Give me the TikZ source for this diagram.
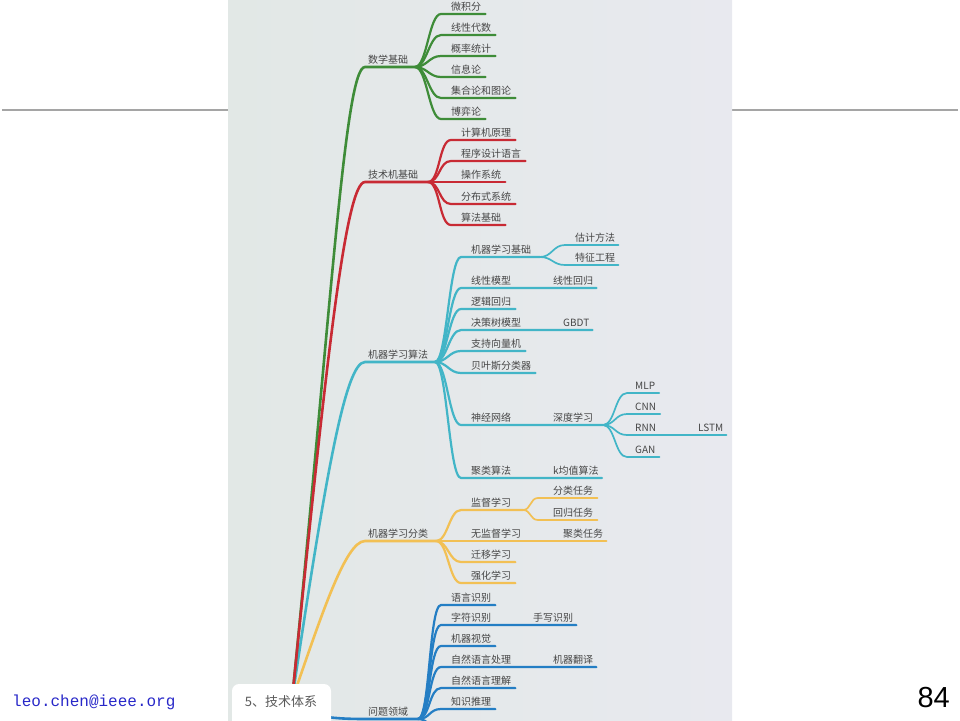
\documentclass[tikz,border=0pt]{standalone}
\usepackage{fontspec}
\newfontfamily\cjkfont{Noto Sans CJK SC}
\newfontfamily\arialfont{Liberation Sans}
\newfontfamily\courfont{Liberation Mono}
\definecolor{mmgreen}{RGB}{62,140,56}
\definecolor{mmred}{RGB}{200,42,52}
\definecolor{mmcyan}{RGB}{66,181,199}
\definecolor{mmyellow}{RGB}{242,192,84}
\definecolor{mmblue}{RGB}{36,126,196}
\definecolor{txtgray}{RGB}{70,70,70}
\definecolor{secgray}{RGB}{90,90,90}
\definecolor{panL}{RGB}{226,232,230}
\definecolor{panR}{RGB}{232,233,239}
\definecolor{mailblue}{RGB}{40,40,200}
\definecolor{rulegray}{RGB}{165,165,165}
\begin{document}
\begin{tikzpicture}[x=1pt, y=-1pt,
    lbl/.style={anchor=south west, inner xsep=0pt, inner ysep=2pt, text height=8pt, text depth=1.5pt, text=txtgray, font=\cjkfont\fontsize{10}{12}\selectfont},
    trunk/.style={line width=2.6pt, line cap=round},
    twig/.style={line width=2.2pt, line cap=round},
    leaf/.style={line width=1.7pt, line cap=round}]
    \useasboundingbox (0,0) rectangle (960,720);

    % Slide rule and panel
    \draw[rulegray, line width=1.3pt] (2,110) -- (228,110);
    \draw[rulegray, line width=1.3pt] (732,110) -- (958,110);
    \shade[left color=panL, right color=panR] (228,0) rectangle (732,720);

    \begin{scope}
        \clip (228,0) rectangle (732,720);
        \coordinate (root) at (292,700);

        % Main branches
        \node[lbl] (sxjc) at (368,67) {数学基础};
        \node[lbl] (jsjc) at (368,182) {技术机基础};
        \node[lbl] (jqsf) at (368,362) {机器学习算法};
        \node[lbl] (jqfl) at (368,541) {机器学习分类};
        \node[lbl] (wtly) at (368,719) {问题领域};

        \draw[mmblue, trunk] (root) .. controls (300,716) and (330,719) .. ([xshift=-3pt]wtly.south west) -- (418,719) coordinate (fkWT);
        \draw[mmyellow, trunk] (root) .. controls (320,620) and (345,541) .. ([xshift=-3pt]jqfl.south west) -- (436,541) coordinate (fkFL);
        \draw[mmcyan, trunk] (root) .. controls (325,480) and (345,362) .. ([xshift=-3pt]jqsf.south west) -- (435,362) coordinate (fkSF);
        \draw[mmgreen, trunk] (root) .. controls (332,300) and (345,67) .. ([xshift=-3pt]sxjc.south west) -- (415,67) coordinate (fkSX);
        \draw[mmred, trunk] (root) .. controls (325,374) and (345,182) .. ([xshift=-3pt]jsjc.south west) -- (428,182) coordinate (fkJS);

        % Math
        \node[lbl] (wjf) at (451,14) {微积分};
        \node[lbl] (xxds) at (451,35) {线性代数};
        \node[lbl] (gltj) at (451,56) {概率统计};
        \node[lbl] (xxl) at (451,77) {信息论};
        \node[lbl] (jhl) at (451,98) {集合论和图论};
        \node[lbl] (byl) at (451,119) {博弈论};
        \draw[mmgreen, twig] (fkSX) .. controls +(12,0) and +(-12,0) .. ([xshift=-10pt]wjf.south west) -- ([xshift=4pt]wjf.south east);
        \draw[mmgreen, twig] (fkSX) .. controls +(12,0) and +(-12,0) .. ([xshift=-10pt]xxds.south west) -- ([xshift=4pt]xxds.south east);
        \draw[mmgreen, twig] (fkSX) .. controls +(12,0) and +(-12,0) .. ([xshift=-10pt]gltj.south west) -- ([xshift=4pt]gltj.south east);
        \draw[mmgreen, twig] (fkSX) .. controls +(12,0) and +(-12,0) .. ([xshift=-10pt]xxl.south west) -- ([xshift=4pt]xxl.south east);
        \draw[mmgreen, twig] (fkSX) .. controls +(12,0) and +(-12,0) .. ([xshift=-10pt]jhl.south west) -- ([xshift=4pt]jhl.south east);
        \draw[mmgreen, twig] (fkSX) .. controls +(12,0) and +(-12,0) .. ([xshift=-10pt]byl.south west) -- ([xshift=4pt]byl.south east);

        % Computer basics
        \node[lbl] (jsjyl) at (461,140) {计算机原理};
        \node[lbl] (cxsj) at (461,161) {程序设计语言};
        \node[lbl] (czxt) at (461,182) {操作系统};
        \node[lbl] (fbxt) at (461,204) {分布式系统};
        \node[lbl] (sfjc) at (461,225) {算法基础};
        \draw[mmred, twig] (fkJS) .. controls +(12,0) and +(-12,0) .. ([xshift=-10pt]jsjyl.south west) -- ([xshift=4pt]jsjyl.south east);
        \draw[mmred, twig] (fkJS) .. controls +(12,0) and +(-12,0) .. ([xshift=-10pt]cxsj.south west) -- ([xshift=4pt]cxsj.south east);
        \draw[mmred, twig] (fkJS) .. controls +(12,0) and +(-12,0) .. ([xshift=-10pt]czxt.south west) -- ([xshift=4pt]czxt.south east);
        \draw[mmred, twig] (fkJS) .. controls +(12,0) and +(-12,0) .. ([xshift=-10pt]fbxt.south west) -- ([xshift=4pt]fbxt.south east);
        \draw[mmred, twig] (fkJS) .. controls +(12,0) and +(-12,0) .. ([xshift=-10pt]sfjc.south west) -- ([xshift=4pt]sfjc.south east);

        % ML algorithms
        \node[lbl] (jqjc) at (471,257) {机器学习基础};
        \node[lbl] (gjff) at (575,245) {估计方法};
        \node[lbl] (tzgc) at (575,265) {特征工程};
        \node[lbl] (xxmx) at (471,288) {线性模型};
        \node[lbl] (xxhg) at (553,288) {线性回归};
        \node[lbl] (ljhg) at (471,309) {逻辑回归};
        \node[lbl] (jcs) at (471,330) {决策树模型};
        \node[lbl] (gbdt) at (563,330) {GBDT};
        \node[lbl] (zcxl) at (471,351) {支持向量机};
        \node[lbl] (bys) at (471,373) {贝叶斯分类器};
        \node[lbl] (sjwl) at (471,425) {神经网络};
        \node[lbl] (sdxx) at (553,425) {深度学习};
        \node[lbl] (mlp) at (635,393) {MLP};
        \node[lbl] (cnn) at (635,414) {CNN};
        \node[lbl] (rnn) at (635,435) {RNN};
        \node[lbl] (lstm) at (698,435) {LSTM};
        \node[lbl] (gan) at (635,457) {GAN};
        \node[lbl] (jlsf) at (471,478) {聚类算法};
        \node[lbl] (kjz) at (553,478) {k均值算法};
        \draw[mmcyan, twig] (fkSF) .. controls +(12,0) and +(-12,0) .. ([xshift=-10pt]jqjc.south west) -- (540,257) coordinate (fkJC);
        \draw[mmcyan, leaf] (fkJC) .. controls +(12,0) and +(-12,0) .. ([xshift=-10pt]gjff.south west) -- ([xshift=3pt]gjff.south east);
        \draw[mmcyan, leaf] (fkJC) .. controls +(12,0) and +(-12,0) .. ([xshift=-10pt]tzgc.south west) -- ([xshift=3pt]tzgc.south east);
        \draw[mmcyan, twig] (fkSF) .. controls +(12,0) and +(-12,0) .. ([xshift=-10pt]xxmx.south west) -- ([xshift=3pt]xxhg.south east);
        \draw[mmcyan, twig] (fkSF) .. controls +(12,0) and +(-12,0) .. ([xshift=-10pt]ljhg.south west) -- ([xshift=4pt]ljhg.south east);
        \draw[mmcyan, twig] (fkSF) .. controls +(12,0) and +(-12,0) .. ([xshift=-10pt]jcs.south west) -- ([xshift=3pt]gbdt.south east);
        \draw[mmcyan, twig] (fkSF) .. controls +(12,0) and +(-12,0) .. ([xshift=-10pt]zcxl.south west) -- ([xshift=4pt]zcxl.south east);
        \draw[mmcyan, twig] (fkSF) .. controls +(12,0) and +(-12,0) .. ([xshift=-10pt]bys.south west) -- ([xshift=4pt]bys.south east);
        \draw[mmcyan, twig] (fkSF) .. controls +(12,0) and +(-12,0) .. ([xshift=-10pt]sjwl.south west) -- (603,425) coordinate (fkSD);
        \draw[mmcyan, leaf] (fkSD) .. controls +(12,0) and +(-12,0) .. ([xshift=-8pt]mlp.south west) -- ([xshift=4pt]mlp.south east);
        \draw[mmcyan, leaf] (fkSD) .. controls +(12,0) and +(-12,0) .. ([xshift=-8pt]cnn.south west) -- ([xshift=4pt]cnn.south east);
        \draw[mmcyan, leaf] (fkSD) .. controls +(12,0) and +(-12,0) .. ([xshift=-8pt]rnn.south west) -- ([xshift=3pt]lstm.south east);
        \draw[mmcyan, leaf] (fkSD) .. controls +(12,0) and +(-12,0) .. ([xshift=-8pt]gan.south west) -- ([xshift=4pt]gan.south east);
        \draw[mmcyan, twig] (fkSF) .. controls +(12,0) and +(-12,0) .. ([xshift=-10pt]jlsf.south west) -- ([xshift=3pt]kjz.south east);

        % ML categories
        \node[lbl] (jdxx) at (471,510) {监督学习};
        \node[lbl] (flrw) at (553,498) {分类任务};
        \node[lbl] (hgrw) at (553,520) {回归任务};
        \node[lbl] (wjdxx) at (471,541) {无监督学习};
        \node[lbl] (jlrw) at (563,541) {聚类任务};
        \node[lbl] (qyxx) at (471,562) {迁移学习};
        \node[lbl] (qhxx) at (471,583) {强化学习};
        \draw[mmyellow, twig] (fkFL) .. controls +(12,0) and +(-12,0) .. ([xshift=-10pt]jdxx.south west) -- (523,510) coordinate (fkJD);
        \draw[mmyellow, leaf] (fkJD) .. controls +(8,0) and +(-8,0) .. ([xshift=-15pt]flrw.south west) -- ([xshift=4pt]flrw.south east);
        \draw[mmyellow, leaf] (fkJD) .. controls +(8,0) and +(-8,0) .. ([xshift=-15pt]hgrw.south west) -- ([xshift=4pt]hgrw.south east);
        \draw[mmyellow, twig] (fkFL) -- ([xshift=3pt]jlrw.south east);
        \draw[mmyellow, twig] (fkFL) .. controls +(12,0) and +(-12,0) .. ([xshift=-10pt]qyxx.south west) -- ([xshift=4pt]qyxx.south east);
        \draw[mmyellow, twig] (fkFL) .. controls +(12,0) and +(-12,0) .. ([xshift=-10pt]qhxx.south west) -- ([xshift=4pt]qhxx.south east);

        % Problem domains
        \node[lbl] (yysb) at (451,605) {语言识别};
        \node[lbl] (zfsb) at (451,625) {字符识别};
        \node[lbl] (sxsb) at (533,625) {手写识别};
        \node[lbl] (jqsj) at (451,646) {机器视觉};
        \node[lbl] (zrcl) at (451,667) {自然语言处理};
        \node[lbl] (jqfy) at (553,667) {机器翻译};
        \node[lbl] (zrlj) at (451,688) {自然语言理解};
        \node[lbl] (zstl) at (451,709) {知识推理};
        \coordinate (cutoff) at (441,731);
        \draw[mmblue, twig] (fkWT) .. controls +(12,0) and +(-12,0) .. ([xshift=-10pt]yysb.south west) -- ([xshift=4pt]yysb.south east);
        \draw[mmblue, twig] (fkWT) .. controls +(12,0) and +(-12,0) .. ([xshift=-10pt]zfsb.south west) -- ([xshift=3pt]sxsb.south east);
        \draw[mmblue, twig] (fkWT) .. controls +(12,0) and +(-12,0) .. ([xshift=-10pt]jqsj.south west) -- ([xshift=4pt]jqsj.south east);
        \draw[mmblue, twig] (fkWT) .. controls +(12,0) and +(-12,0) .. ([xshift=-10pt]zrcl.south west) -- ([xshift=3pt]jqfy.south east);
        \draw[mmblue, twig] (fkWT) .. controls +(12,0) and +(-12,0) .. ([xshift=-10pt]zrlj.south west) -- ([xshift=4pt]zrlj.south east);
        \draw[mmblue, twig] (fkWT) .. controls +(12,0) and +(-12,0) .. ([xshift=-10pt]zstl.south west) -- ([xshift=4pt]zstl.south east);
        \draw[mmblue, twig] (fkWT) .. controls +(12,0) and +(-12,0) .. (cutoff) -- ++(55,0);

        % Section tab
        \fill[white, rounded corners=7pt] (232,684) rectangle (331,730);
        \node[text=secgray, font=\cjkfont\fontsize{13}{15}\selectfont] (jstx) at (281,702) {5、技术体系};
    \end{scope}

    % Footer
    \node[anchor=base west, inner sep=0pt, text=mailblue, font=\courfont\fontsize{16}{18}\selectfont] (mail) at (12,706) {leo.chen@ieee.org};
    \node[anchor=base east, inner sep=0pt, font=\arialfont\fontsize{29}{31}\selectfont] (pgno) at (950,707) {84};
\end{tikzpicture}
\end{document}
